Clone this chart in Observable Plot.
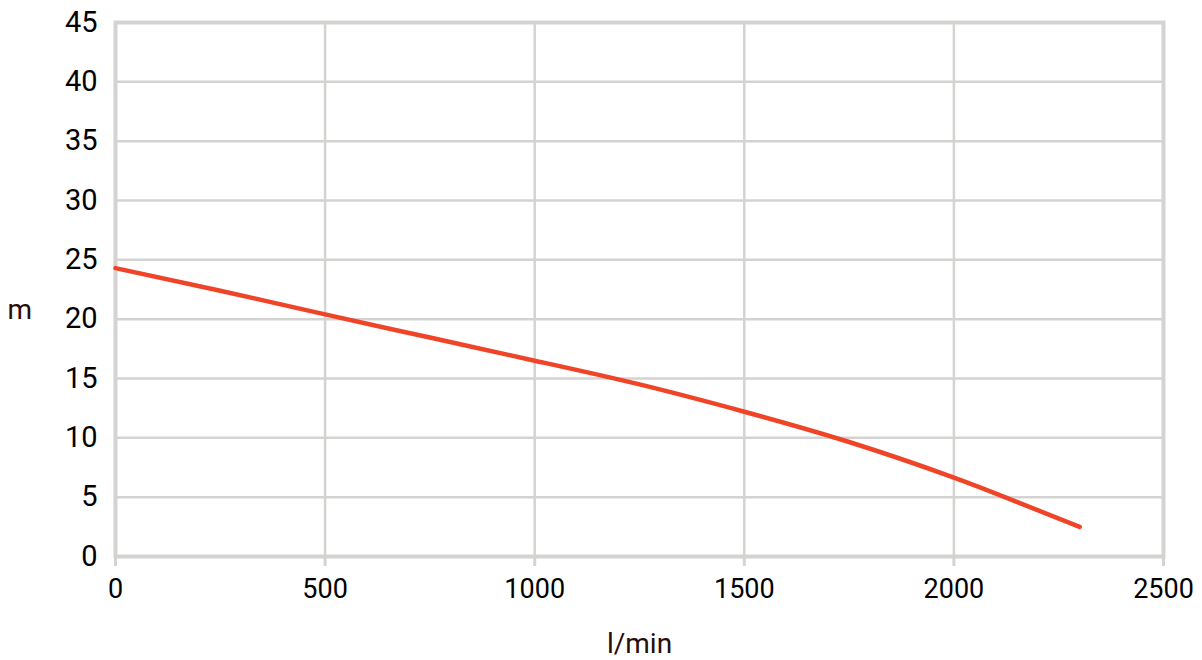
<!DOCTYPE html>
<html>
<head>
<meta charset="utf-8">
<script src="https://cdn.jsdelivr.net/npm/d3@7"></script>
<script src="https://cdn.jsdelivr.net/npm/@observablehq/plot@0.6"></script>
<style>
  html, body { margin: 0; padding: 0; background: #fff; }
  #chart { width: 1202px; height: 660px; }
  svg { overflow: visible; }
</style>
</head>
<body>
<div id="chart"></div>
<script>
const flow = [0, 250, 500, 750, 1000, 1250, 1500, 1750, 2000, 2150, 2300];
const head = [24.3, 22.4, 20.4, 18.45, 16.5, 14.5, 12.2, 9.65, 6.65, 4.6, 2.5];
const xTicks = [0, 500, 1000, 1500, 2000, 2500];
const yTicks = [0, 5, 10, 15, 20, 25, 30, 35, 40, 45];
const xLabel = "l/min";
const yLabel = "m";

const data = flow.map((f, i) => ({flow: f, head: head[i]}));
const gridColor = "#d4d3d1";
const labelColor = "#2a0c06";

const plot = Plot.plot({
  width: 1202,
  height: 660,
  marginLeft: 115,
  marginRight: 39,
  marginTop: 22,
  marginBottom: 104,
  style: {fontFamily: "Roboto, sans-serif", background: "#fff"},
  x: {domain: [0, 2500], ticks: xTicks},
  y: {domain: [0, 45], ticks: yTicks},
  marks: [
    Plot.gridX(xTicks, {stroke: gridColor, strokeOpacity: 1, strokeWidth: 2.5}),
    Plot.gridY(yTicks, {stroke: gridColor, strokeOpacity: 1, strokeWidth: 2.5}),
    Plot.frame({stroke: gridColor, strokeWidth: 4}),
    Plot.axisX(xTicks, {tickSize: 10, stroke: gridColor, strokeWidth: 3, tickPadding: 12,
      fontSize: 27, fill: "#000", label: null, tickFormat: d => String(d)}),
    Plot.axisY(yTicks, {tickSize: 0, tickPadding: 18, fontSize: 29, fill: "#000", label: null,
      tickFormat: d => String(d)}),
    Plot.line(data, {x: "flow", y: "head", curve: "natural", stroke: "#f04428",
      strokeWidth: 4.5, strokeLinecap: "round"}),
    Plot.text([xLabel], {frameAnchor: "bottom", dy: 96, text: d => d, fontSize: 28,
      fill: labelColor}),
    Plot.text([yLabel], {frameAnchor: "left", dx: -108, text: d => d, fontSize: 28,
      fill: labelColor, dy: 21})
  ]
});
document.getElementById("chart").appendChild(plot);
</script>
</body>
</html>
